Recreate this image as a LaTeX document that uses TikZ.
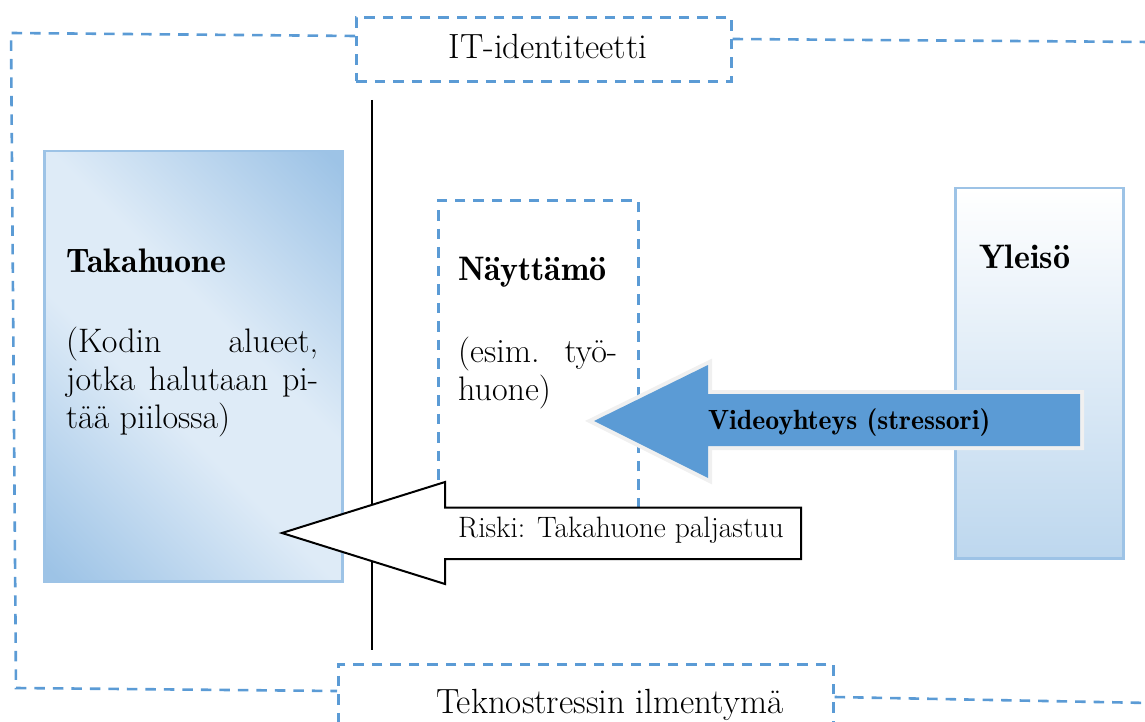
\documentclass[tikz,border=0pt]{standalone}
\definecolor{frameblue}{HTML}{5B9BD5}
\definecolor{arrowblue}{HTML}{5B9BD5}
\definecolor{arrowgray}{HTML}{F0F0F0}
\definecolor{tdark}{HTML}{9DC3E6}
\definecolor{tlight}{HTML}{DEEBF7}
\definecolor{ybot}{HTML}{BDD7EE}
\pgfdeclarehorizontalshading{takashade}{100bp}{color(0bp)=(tdark); color(16bp)=(tdark); color(43bp)=(tlight); color(57bp)=(tlight); color(84bp)=(tdark); color(100bp)=(tdark)}
\begin{document}
\begin{tikzpicture}[x=1pt,y=-1pt,
  frame/.style={draw=frameblue, line width=2.6pt, dash pattern=on 10.5pt off 8pt},
  framebox/.style={frame, anchor=north west, inner sep=0pt},
  txt/.style={inner sep=0pt, anchor=base west, font=\fontsize{35}{38}\selectfont},
  ptxt/.style={inner sep=0pt, anchor=base west, font=\fontsize{34}{38}\selectfont},
  boldtxt/.style={inner sep=0pt, anchor=base west, font=\fontsize{34}{38}\fontseries{b}\selectfont},
  takabox/.style={anchor=north west, inner sep=0pt, minimum width=298pt, minimum height=430pt, draw=tdark, line width=2.5pt, shading=takashade, shading angle=45},
  ylebox/.style={anchor=north west, inner sep=0pt, minimum width=168pt, minimum height=370pt, draw=tdark, line width=2.5pt, top color=white, bottom color=ybot},
  riski/.style={draw=black, line width=2pt, fill=white, line join=miter},
  video/.style={fill=arrowblue, draw=arrowgray, line width=8pt, line join=miter}
]
\useasboundingbox (0,0) rectangle (1145,722);
\clip (0,0) rectangle (1145,722);

% boxes
\node[takabox] (taka) at (43,150) {};
\node[ylebox] (yle) at (954,187) {};
\node[framebox, minimum width=375pt, minimum height=64pt] (it) at (355,16) {};
\node[framebox, minimum width=495pt, minimum height=90pt] (tek) at (337,663) {};
\node[framebox, minimum width=200pt, minimum height=330pt] (nay) at (437,199) {};

% outer frame
\coordinate (ftl) at (11,33);
\coordinate (fbl) at (16,688);
\coordinate (ftr) at (1150,42);
\coordinate (fbr) at (1150,703);
\draw[frame] ([yshift=-20pt]it.north west) -- (ftl) -- (fbl) -- ([yshift=-28pt]tek.north west);
\draw[frame] ([yshift=-23pt]it.north east) -- (ftr);
\draw[frame] ([yshift=-34pt]tek.north east) -- (fbr);

% vertical line
\coordinate (vtop) at (372,100);
\coordinate (vbot) at (372,650);
\draw[line width=2pt] (vtop) -- (vbot);

% video arrow
\draw[video] (594,421) -- (708,365) -- (708,394) -- (1080,394) -- (1080,446) -- (708,446) -- (708,478) -- cycle;
\fill[arrowblue] (594,421) -- (708,365) -- (708,394) -- (1080,394) -- (1080,446) -- (708,446) -- (708,478) -- cycle;

% riski arrow
\draw[riski] (282,533) -- (445,482) -- (445,507.5) -- (801,507.5) -- (801,559) -- (445,559) -- (445,584) -- cycle;

% texts
\node[txt, anchor=base] (ittext) at (548,59) {IT-identiteetti};
\node[txt] (tektext) at (436,713) {Teknostressin ilmentymä};
\node[boldtxt] (takat) at (66,272) {Takahuone};
\node[ptxt] (taka1) at (66,352) {\hbox to 252pt{(Kodin\hfill alueet,}};
\node[ptxt] (taka2) at (66,390) {\hbox to 252pt{jotka halutaan pi-}};
\node[ptxt] (taka3) at (66,428) {tää piilossa)};
\node[boldtxt] (nayt) at (458,280) {Näyttämö};
\node[ptxt] (nay1) at (458,362) {\hbox to 159pt{(esim.\hfill työ-}};
\node[ptxt] (nay2) at (458,400) {huone)};
\node[boldtxt] (ylet) at (979,268) {Yleisö};
\node[boldtxt, font=\fontsize{27.8}{30}\fontseries{b}\selectfont] (videot) at (708,429) {Videoyhteys (stressori)};
\node[txt, font=\fontsize{29.5}{32}\selectfont] (riskit) at (458,537) {Riski: Takahuone paljastuu};
\end{tikzpicture}
\end{document}
